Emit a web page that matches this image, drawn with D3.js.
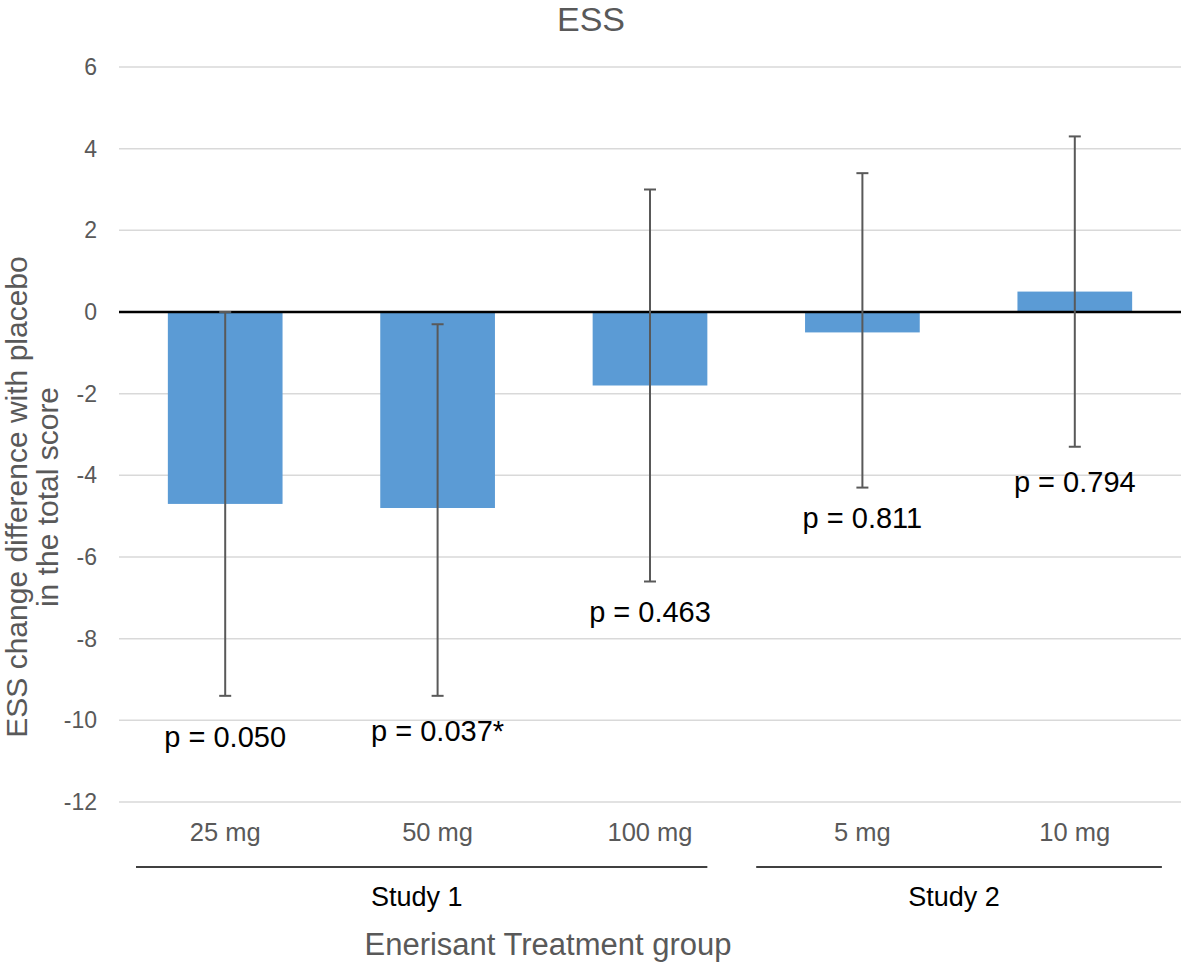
<!DOCTYPE html>
<html>
<head>
<meta charset="utf-8">
<script src="https://cdn.jsdelivr.net/npm/d3@7"></script>
<style>
  html, body { margin: 0; padding: 0; background: #fff; }
  svg { display: block; font-family: "Liberation Sans", Arial, sans-serif; }
</style>
</head>
<body>
<svg id="chart" width="1184" height="964"></svg>
<script>
// ---- data ----
const categories = ["25 mg", "50 mg", "100 mg", "5 mg", "10 mg"];
const values     = [-4.7, -4.8, -1.8, -0.5, 0.5];
const ciLower    = [-9.4, -9.4, -6.6, -4.3, -3.3];
const ciUpper    = [0.0, -0.3, 3.0, 3.4, 4.3];
const pLabels    = ["p = 0.050", "p = 0.037*", "p = 0.463", "p = 0.811", "p = 0.794"];
const pLabelAt   = [-10.4, -10.25, -7.35, -5.05, -4.15];   // anchor in data units
const yTicks     = [-12, -10, -8, -6, -4, -2, 0, 2, 4, 6];
const groupNames = ["Study 1", "Study 2"];
const groupStart = [-0.42, 2.5];    // extent in category-index units
const groupEnd   = [2.27, 4.41];
const title      = "ESS";
const yTitle     = ["ESS change difference with placebo", "in the total score"];
const xTitle     = "Enerisant Treatment group";

// ---- layout ----
const svg = d3.select("#chart");
const pLeft = 119, pRight = 1181, pTop = 67, pBottom = 802;

const x = d3.scaleBand().domain(categories).range([pLeft, pRight])
  .paddingInner(0.46).paddingOuter(0.23);
const y = d3.scaleLinear().domain([-12, 6]).range([pBottom, pTop]);
const step = x.step();
const cx = i => x(categories[i]) + x.bandwidth() / 2;

// gridlines
svg.append("g").selectAll("line").data(yTicks.filter(t => t !== 0)).join("line")
  .attr("x1", pLeft).attr("x2", pRight)
  .attr("y1", d => y(d)).attr("y2", d => y(d))
  .attr("stroke", "#d9d9d9").attr("stroke-width", 1.5);

// y axis tick labels
const yAxis = d3.axisLeft(y).tickValues(yTicks).tickSize(0).tickPadding(0)
  .tickFormat(d => String(d));
const yg = svg.append("g").attr("transform", `translate(97,0)`).call(yAxis);
yg.select(".domain").remove();
yg.selectAll("text").attr("font-size", 23).attr("fill", "#595959")
  .attr("font-family", "Liberation Sans, Arial, sans-serif");

// bars
svg.append("g").selectAll("rect").data(values).join("rect")
  .attr("x", (d, i) => x(categories[i]))
  .attr("width", x.bandwidth())
  .attr("y", d => y(Math.max(0, d)))
  .attr("height", d => Math.abs(y(d) - y(0)))
  .attr("fill", "#5b9bd5");

// zero line
svg.append("line").attr("x1", pLeft).attr("x2", pRight)
  .attr("y1", y(0)).attr("y2", y(0))
  .attr("stroke", "#000").attr("stroke-width", 2.5);

// error bars
const eb = svg.append("g").attr("stroke", "#595959").attr("stroke-width", 2);
values.forEach((v, i) => {
  const c = cx(i);
  eb.append("line").attr("x1", c).attr("x2", c).attr("y1", y(ciLower[i])).attr("y2", y(ciUpper[i]));
  [ciLower[i], ciUpper[i]].forEach(e => {
    eb.append("line").attr("x1", c - 6).attr("x2", c + 6).attr("y1", y(e)).attr("y2", y(e));
  });
});

// p labels
svg.append("g").selectAll("text").data(pLabels).join("text")
  .attr("x", (d, i) => cx(i)).attr("y", (d, i) => y(pLabelAt[i]))
  .attr("dy", "0.35em").attr("text-anchor", "middle")
  .attr("font-size", 29).attr("fill", "#000").text(d => d);

// category labels
const xAxis = d3.axisBottom(x).tickSize(0).tickPadding(0);
const xg = svg.append("g").attr("transform", `translate(0,823)`).call(xAxis);
xg.select(".domain").remove();
xg.selectAll("text").attr("font-size", 25.5).attr("fill", "#595959")
  .attr("font-family", "Liberation Sans, Arial, sans-serif");

// group lines and labels
groupNames.forEach((g, k) => {
  const x1 = cx(0) + groupStart[k] * step, x2 = cx(0) + groupEnd[k] * step;
  svg.append("line").attr("x1", x1).attr("x2", x2).attr("y1", 867).attr("y2", 867)
    .attr("stroke", "#000").attr("stroke-width", 1.5);
  svg.append("text").attr("x", (x1 + x2) / 2 - 5).attr("y", 906)
    .attr("text-anchor", "middle").attr("font-size", 27).attr("fill", "#000").text(g);
});

// titles
svg.append("text").attr("x", 591).attr("y", 31).attr("text-anchor", "middle")
  .attr("font-size", 34).attr("fill", "#595959").text(title);

svg.append("text").attr("x", 548).attr("y", 955).attr("text-anchor", "middle")
  .attr("font-size", 31).attr("fill", "#595959").text(xTitle);

const yt = svg.append("text").attr("transform", "translate(0,497) rotate(-90)")
  .attr("text-anchor", "middle").attr("font-size", 30).attr("fill", "#595959");
yTitle.forEach((t, i) => {
  yt.append("tspan").attr("x", 0).attr("y", 27 + i * 31).text(t);
});
</script>
</body>
</html>
